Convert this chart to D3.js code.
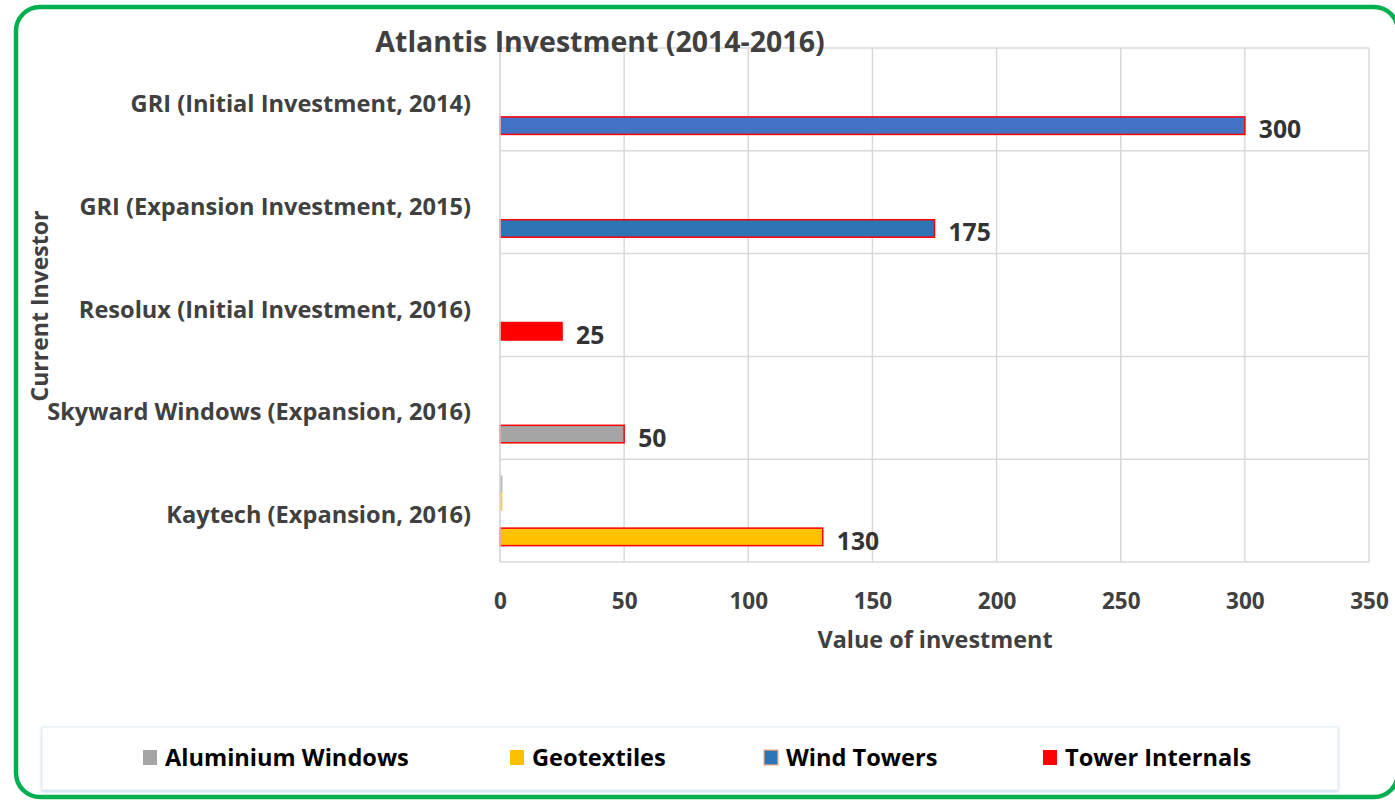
<!DOCTYPE html>
<html>
<head>
<meta charset="utf-8">
<script src="https://cdn.jsdelivr.net/npm/d3@7"></script>
<style>
  html, body { margin: 0; padding: 0; background: #ffffff; }
  svg { display: block; }
  text { font-family: "Open Sans", Lato, sans-serif; font-weight: 700; }
</style>
</head>
<body>
<svg id="chart" width="1395" height="800"></svg>
<script>
// ---------- DATA ----------
const categories = [
  "GRI (Initial Investment, 2014)",
  "GRI (Expansion Investment, 2015)",
  "Resolux (Initial Investment, 2016)",
  "Skyward Windows (Expansion, 2016)",
  "Kaytech (Expansion, 2016)"
];
// per-category investment value (labelled bar) and its product type
const investmentValues = [300, 175, 25, 50, 130];
const investmentTypes = ["Wind Towers", "Wind Towers", "Tower Internals", "Aluminium Windows", "Geotextiles"];
// small companion series (only visible for Kaytech)
const aluminiumWindowsValues = [0, 0, 0, 0, 1];
const geotextilesValues = [0, 0, 0, 0, 1];
const windTowersValues = [0, 0, 0, 0, 0];
const legendNames = ["Aluminium Windows", "Geotextiles", "Wind Towers", "Tower Internals"];
const xTickValues = [0, 50, 100, 150, 200, 250, 300, 350];

// ---------- STYLE ----------
const typeColor = {
  "Aluminium Windows": "#A5A5A5",
  "Geotextiles": "#FFC000",
  "Wind Towers": "#2E75B6",
  "Tower Internals": "#FF0000"
};
const firstBarFill = "#4472C4";
const textColor = "#404040";
const gridColor = "#D9D9D9";

const svg = d3.select("#chart");

const defs = svg.append("defs");
const f = defs.append("filter").attr("id", "shadow").attr("x", "-5%").attr("y", "-20%").attr("width", "110%").attr("height", "150%");
f.append("feDropShadow").attr("dx", 0).attr("dy", 1.5).attr("stdDeviation", 1.5).attr("flood-color", "#9DC3E6").attr("flood-opacity", 0.6);

// outer green frame
svg.append("rect")
  .attr("x", 16).attr("y", 7).attr("width", 1382).attr("height", 790)
  .attr("rx", 24).attr("ry", 24)
  .attr("fill", "#ffffff").attr("stroke", "#00B050").attr("stroke-width", 4.5);

const plot = { left: 500, right: 1369, top: 48, bottom: 562 };

const x = d3.scaleLinear().domain([0, 350]).range([plot.left, plot.right]);
const y = d3.scaleBand().domain(categories).range([plot.top, plot.bottom]).paddingInner(0).paddingOuter(0);
const slots = ["aluminium", "geotextiles", "windtowers", "investment"];
const ySlot = d3.scaleBand().domain(slots).range([0, y.bandwidth()]).paddingInner(0).paddingOuter(0.935);

// gridlines vertical
svg.append("g").selectAll("line").data(xTickValues).join("line")
  .attr("x1", d => x(d)).attr("x2", d => x(d))
  .attr("y1", plot.top).attr("y2", plot.bottom)
  .attr("stroke", gridColor).attr("stroke-width", 1.5);

// gridlines horizontal (category boundaries)
const boundaries = categories.map(c => y(c)).concat([plot.bottom]);
svg.append("g").selectAll("line").data(boundaries).join("line")
  .attr("x1", plot.left).attr("x2", plot.right)
  .attr("y1", d => d).attr("y2", d => d)
  .attr("stroke", gridColor).attr("stroke-width", 1.5);

// x axis tick labels
const xAxis = d3.axisBottom(x).tickValues(xTickValues).tickSize(0).tickPadding(0);
const gx = svg.append("g").attr("transform", `translate(0,${plot.bottom + 47})`).call(xAxis);
gx.select(".domain").remove();
gx.selectAll("text")
  .attr("dy", "0")
  .attr("y", 0)
  .attr("fill", textColor)
  .style("font-size", "22.5px");

// y axis category labels
const yAxis = d3.axisLeft(y).tickSize(0).tickPadding(0);
const gy = svg.append("g").attr("transform", `translate(${plot.left - 29},5)`).call(yAxis);
gy.select(".domain").remove();
gy.selectAll("text")
  .attr("fill", textColor)
  .attr("dy", "0.32em")
  .style("font-size", "23.6px");

// small companion bars
const companion = [
  { slot: "aluminium", values: aluminiumWindowsValues, type: "Aluminium Windows" },
  { slot: "geotextiles", values: geotextilesValues, type: "Geotextiles" },
  { slot: "windtowers", values: windTowersValues, type: "Wind Towers" }
];
companion.forEach(s => {
  svg.append("g").selectAll("rect")
    .data(categories.map((c, i) => ({ c, v: s.values[i] })).filter(d => d.v > 0))
    .join("rect")
    .attr("x", x(0))
    .attr("y", d => y(d.c) + ySlot(s.slot))
    .attr("width", d => x(d.v) - x(0))
    .attr("height", ySlot.bandwidth())
    .attr("fill", typeColor[s.type])
    .attr("opacity", 0.75);
});

// main investment bars
const mainData = categories.map((c, i) => ({ c, v: investmentValues[i], t: investmentTypes[i], i }));
svg.append("g").selectAll("rect").data(mainData).join("rect")
  .attr("x", x(0))
  .attr("y", d => y(d.c) + ySlot("investment"))
  .attr("width", d => x(d.v) - x(0))
  .attr("height", ySlot.bandwidth())
  .attr("fill", d => d.i === 0 ? firstBarFill : typeColor[d.t])
  .attr("stroke", "#FF0000").attr("stroke-width", 1.5);

// value labels
svg.append("g").selectAll("text").data(mainData).join("text")
  .attr("x", d => x(d.v) + 14)
  .attr("y", d => y(d.c) + ySlot("investment") + ySlot.bandwidth() / 2 + 4)
  .attr("dy", "0.35em")
  .attr("fill", "#333333")
  .style("font-size", "24.7px")
  .text(d => d.v);

// left axis line
svg.append("line")
  .attr("x1", plot.left).attr("x2", plot.left)
  .attr("y1", plot.top).attr("y2", plot.bottom)
  .attr("stroke", gridColor).attr("stroke-width", 1.5);

// title
svg.append("text")
  .attr("x", 600).attr("y", 52)
  .attr("text-anchor", "middle")
  .attr("fill", textColor)
  .style("font-size", "28.5px")
  .text("Atlantis Investment (2014-2016)");

// x axis title
svg.append("text")
  .attr("x", 935).attr("y", 648)
  .attr("text-anchor", "middle")
  .attr("fill", textColor)
  .style("font-size", "23.4px")
  .text("Value of investment");

// y axis title
svg.append("text")
  .attr("transform", "translate(48,306) rotate(-90)")
  .attr("text-anchor", "middle")
  .attr("fill", textColor)
  .style("font-size", "23px")
  .text("Current Investor");

// legend
const legendG = svg.append("g");
legendG.append("rect")
  .attr("x", 42).attr("y", 727).attr("width", 1296).attr("height", 63)
  .attr("fill", "#ffffff").attr("stroke", "#E4ECF6").attr("stroke-width", 1)
  .attr("filter", "url(#shadow)");
const legendX = d3.scaleOrdinal().domain(legendNames).range([143, 510, 764, 1043]);
const items = legendG.selectAll("g.item").data(legendNames).join("g")
  .attr("class", "item")
  .attr("transform", d => `translate(${legendX(d)},758)`);
items.append("rect")
  .attr("x", 0).attr("y", -8).attr("width", 14).attr("height", 15)
  .attr("fill", d => typeColor[d])
  .attr("stroke", d => d === "Wind Towers" ? "#F4B183" : "none")
  .attr("stroke-width", 1.2);
items.append("text")
  .attr("x", 22).attr("y", 0).attr("dy", "0.35em")
  .attr("fill", "#000000")
  .style("font-size", "23.6px")
  .text(d => d);
</script>
</body>
</html>
